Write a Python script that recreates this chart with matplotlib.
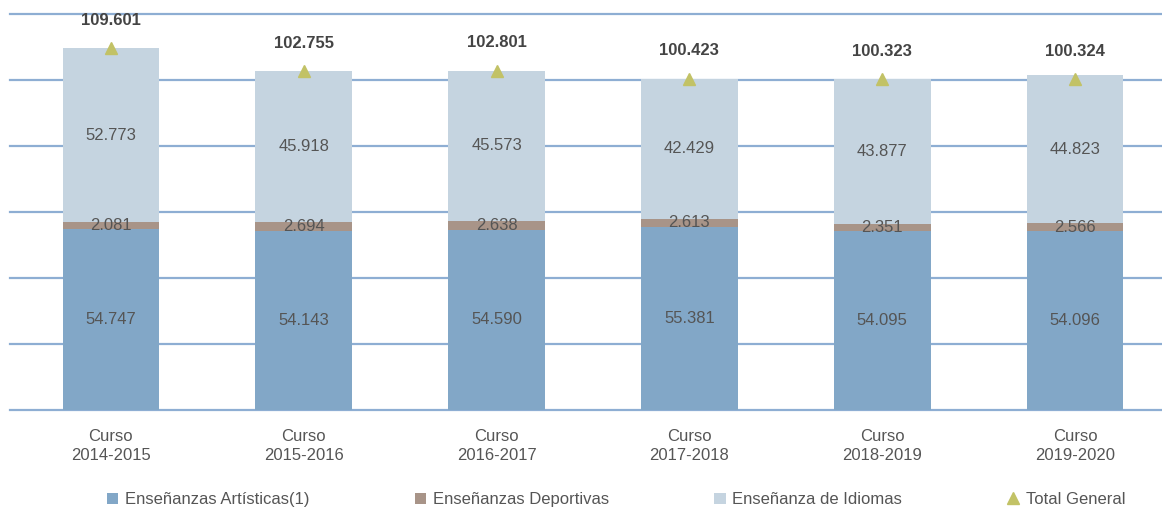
import matplotlib.pyplot as plt
import numpy as np

plt.rcParams['font.family'] = ['Liberation Sans', 'DejaVu Sans']

# data
cursos = ['Curso\n2014-2015', 'Curso\n2015-2016', 'Curso\n2016-2017',
          'Curso\n2017-2018', 'Curso\n2018-2019', 'Curso\n2019-2020']
artisticas = [54747, 54143, 54590, 55381, 54095, 54096]
deportivas = [2081, 2694, 2638, 2613, 2351, 2566]
idiomas = [52773, 45918, 45573, 42429, 43877, 44823]
total = [109601, 102755, 102801, 100423, 100323, 100324]

c_art = '#82a7c7'
c_dep = '#a89488'
c_idi = '#c5d4e0'
c_tot = '#c2c266'
txt = '#555555'

def fmt(v):
    return '{:,}'.format(v).replace(',', '.')

fig = plt.figure(figsize=(11.62, 5.17), dpi=100)
ax = fig.add_axes([0.009, 0.207, 0.991, 0.766])

x = np.arange(len(cursos))
w = 0.5
art = np.array(artisticas)
dep = np.array(deportivas)
idi = np.array(idiomas)

h1 = ax.bar(x, art, w, color=c_art, label='Enseñanzas Artísticas(1)', zorder=2)
h2 = ax.bar(x, dep, w, bottom=art, color=c_dep, label='Enseñanzas Deportivas', zorder=2)
h3 = ax.bar(x, idi, w, bottom=art + dep, color=c_idi, label='Enseñanza de Idiomas', zorder=2)
h4, = ax.plot(x, total, linestyle='none', marker='^', markersize=9, color=c_tot,
              label='Total General', zorder=3)

for i in range(len(x)):
    ax.text(x[i], art[i] / 2, fmt(artisticas[i]), ha='center', va='center',
            fontsize=12, color=txt, zorder=4)
    ax.text(x[i], art[i] + dep[i] / 2, fmt(deportivas[i]), ha='center', va='center',
            fontsize=12, color=txt, zorder=4)
    ax.text(x[i], art[i] + dep[i] + idi[i] / 2, fmt(idiomas[i]), ha='center', va='center',
            fontsize=12, color=txt, zorder=4)
    ax.annotate(fmt(total[i]), (x[i], total[i]), xytext=(0, 20), textcoords='offset points',
                ha='center', va='center', fontsize=12, fontweight='bold', color='#444444')

ax.set_ylim(0, 120000)
ax.set_xlim(-0.52, 5.45)
ax.set_yticks(np.arange(0, 120001, 20000))
ax.yaxis.grid(True, color='#8eaed3', linewidth=1.6, zorder=0)
for gl in ax.get_ygridlines():
    gl.set_clip_on(False)
ax.set_axisbelow(True)
ax.set_yticklabels([])
ax.tick_params(axis='both', length=0)
ax.set_xticks(x)
ax.set_xticklabels(cursos, fontsize=12, color=txt, linespacing=1.3)
ax.tick_params(axis='x', pad=14)
for s in ax.spines.values():
    s.set_visible(False)

fig.legend([h1, h2, h3, h4],
           ['Enseñanzas Artísticas(1)', 'Enseñanzas Deportivas', 'Enseñanza de Idiomas', 'Total General'],
           loc='lower center', bbox_to_anchor=(0.53, -0.01), ncol=4, frameon=False,
           fontsize=12, labelcolor=txt, columnspacing=6.3, handlelength=0.7,
           handletextpad=0.4, handleheight=0.7)

fig.savefig('out.png', dpi=100)
